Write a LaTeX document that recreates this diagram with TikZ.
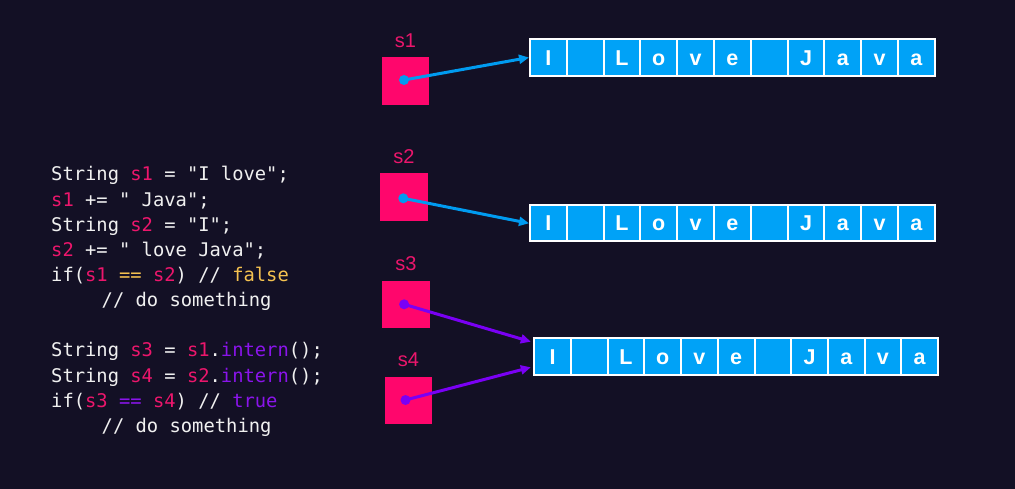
\documentclass[tikz,border=0pt]{standalone}
\usepackage{fontspec}
\usetikzlibrary{arrows.meta}
\newfontfamily\codefont{DejaVu Sans Mono}
\newfontfamily\labfont{Liberation Sans}
\definecolor{bgc}{RGB}{19,16,37}
\definecolor{pinkbox}{RGB}{255,6,108}
\definecolor{pinktxt}{RGB}{236,22,108}
\definecolor{cellblue}{RGB}{0,162,247}
\definecolor{arrblue}{RGB}{0,155,240}
\definecolor{arrpurple}{RGB}{122,0,245}
\definecolor{codewhite}{RGB}{240,240,240}
\definecolor{codeyellow}{RGB}{245,194,80}
\definecolor{codepurple}{RGB}{138,20,235}
\newcommand{\pk}[1]{\textcolor{pinktxt}{#1}}
\newcommand{\yl}[1]{\textcolor{codeyellow}{#1}}
\newcommand{\pu}[1]{\textcolor{codepurple}{#1}}
\begin{document}
\begin{tikzpicture}[x=1pt,y=-1pt,
  codeline/.style={anchor=base west,inner sep=0pt,text=codewhite,font=\codefont\fontsize{18.8}{22}\selectfont},
  varlabel/.style={inner sep=0pt,text=pinktxt,font=\labfont\fontsize{20}{24}\selectfont},
  pinkbox/.style={fill=pinkbox,minimum width=47.5pt,minimum height=47.5pt,inner sep=0pt},
  cell/.style={draw=white,line width=2pt,fill=cellblue,minimum height=36.4pt,inner sep=0pt,
    text=white,font=\labfont\bfseries\fontsize{21.5}{25}\selectfont,text height=15.4pt,text depth=0pt},
  refarrow/.style={line width=3pt,-{Triangle[length=10pt,width=9pt]}},
]
\fill[bgc] (0,0) rectangle (1015,489);

% code
\node[codeline] (l1) at (51,181) {String \pk{s1} = "I love";};
\node[codeline] (l2) at (51,206.1) {\pk{s1} += " Java";};
\node[codeline] (l3) at (51,231.2) {String \pk{s2} = "I";};
\node[codeline] (l4) at (51,256.3) {\pk{s2} += " love Java";};
\node[codeline] (l5) at (51,281.4) {if(\pk{s1} \yl{==} \pk{s2}) // \yl{false}};
\node[codeline] (l6) at (101.5,306.5) {// do something};
\node[codeline] (l8) at (51,356.9) {String \pk{s3} = \pk{s1}.\pu{intern}();};
\node[codeline] (l9) at (51,382) {String \pk{s4} = \pk{s2}.\pu{intern}();};
\node[codeline] (l10) at (51,407.1) {if(\pk{s3} \pu{==} \pk{s4}) // \pu{true}};
\node[codeline] (l11) at (101.5,432.2) {// do something};

% variable labels and boxes
\node[varlabel] (s1) at (405.5,41) {s1};
\node[varlabel] (s2) at (404,157) {s2};
\node[varlabel] (s3) at (406,264) {s3};
\node[varlabel] (s4) at (408.5,360) {s4};
\node[pinkbox] (p1) at (405.4,80.9) {};
\node[pinkbox] (p2) at (404,197) {};
\node[pinkbox] (p3) at (406.1,304.7) {};
\node[pinkbox] (p4) at (408.5,400.3) {};

% arrays
\foreach \c [count=\i] in {I,{},L,o,v,e,{},J,a,v,a}{
  \node[cell,minimum width=36.8pt] (r1c\i) at ({530+36.8*(\i-0.5)},57.5) {\c};
  \node[cell,minimum width=36.8pt] (r2c\i) at ({530+36.8*(\i-0.5)},223.3) {\c};
  \node[cell,minimum width=36.7pt] (r3c\i) at ({534.3+36.7*(\i-0.5)},356.5) {\c};
}

% dots
\coordinate (d1) at ([xshift=-1.4pt,yshift=0.9pt]p1.center);
\coordinate (d2) at ([xshift=-0.7pt,yshift=-1.3pt]p2.center);
\coordinate (d3) at ([xshift=-2pt,yshift=0.4pt]p3.center);
\coordinate (d4) at ([xshift=-3pt,yshift=0.3pt]p4.center);
\coordinate (t3) at ([xshift=-2.5pt,yshift=14.8pt]r3c1.west);
\coordinate (t4) at ([xshift=-2.5pt,yshift=-10.8pt]r3c1.west);

\draw[refarrow,arrblue] (d1) -- (r1c1.west);
\draw[refarrow,arrblue] (d2) -- (r2c1.west);
\draw[refarrow,arrpurple] (d3) -- (t3);
\draw[refarrow,arrpurple] (d4) -- (t4);
\fill[arrblue] (d1) circle (5pt);
\fill[arrblue] (d2) circle (5pt);
\fill[arrpurple] (d3) circle (5pt);
\fill[arrpurple] (d4) circle (5pt);
\end{tikzpicture}
\end{document}
